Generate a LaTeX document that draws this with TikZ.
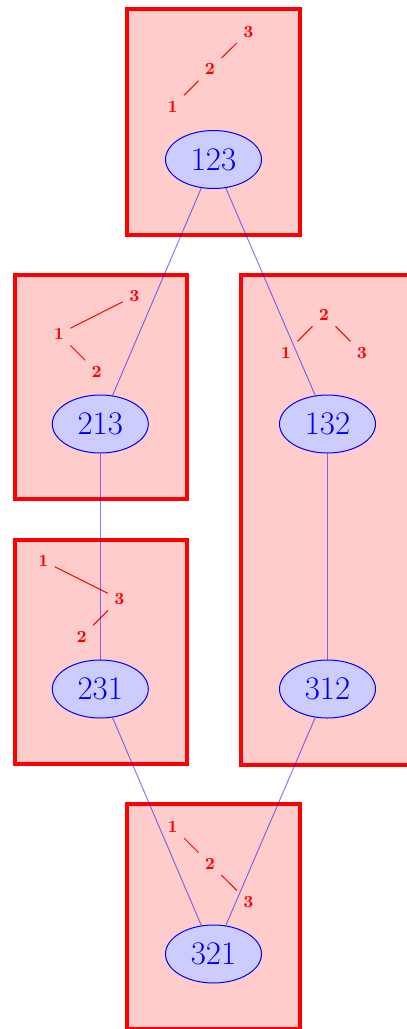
\documentclass[tikz,border=0pt]{standalone}
\usetikzlibrary{shapes.geometric}
\begin{document}
\begin{tikzpicture}[x=0.5pt,y=-0.5pt,
  redbox/.style={draw=red,fill=red!20,line width=2pt},
  perm/.style={ellipse,draw=blue,fill=blue!20,text=blue,line width=0.5pt,
    minimum width=48pt,minimum height=29pt,inner sep=0pt,
    font=\fontsize{16.5}{19}\selectfont},
  lab/.style={text=red,inner sep=3pt,font=\fontsize{8.5}{10}\selectfont\bfseries},
  treeline/.style={draw=red,line width=0.5pt},
  link/.style={draw=blue,draw opacity=0.5,line width=0.5pt}]
\useasboundingbox (0,0) rectangle (407,1029);
\clip (0,0) rectangle (407,1029);
% boxes
\path[redbox] (127,9) rectangle (300,235);
\path[redbox] (14.5,274.5) rectangle (186.5,499);
\path[redbox] (240.5,274.5) rectangle (413.5,764.5);
\path[redbox] (14.5,539.5) rectangle (186.5,764);
\path[redbox] (127,804) rectangle (300,1029);
% trees
\node[lab] (a1) at (172.7,106.7) {1};
\node[lab] (a2) at (210,69.3) {2};
\node[lab] (a3) at (248.3,31.7) {3};
\draw[treeline] (a1) -- (a2);
\draw[treeline] (a2) -- (a3);
\node[lab] (b1) at (59,334) {1};
\node[lab] (b2) at (96.7,371.7) {2};
\node[lab] (b3) at (134.3,296) {3};
\draw[treeline] (b1) -- (b3);
\draw[treeline] (b1) -- (b2);
\node[lab] (c2) at (324,315) {2};
\node[lab] (c1) at (286,352.7) {1};
\node[lab] (c3) at (362,352.7) {3};
\draw[treeline] (c2) -- (c1);
\draw[treeline] (c2) -- (c3);
\node[lab] (d1) at (43.3,561) {1};
\node[lab] (d3) at (119.3,599) {3};
\node[lab] (d2) at (81.7,636.7) {2};
\draw[treeline] (d1) -- (d3);
\draw[treeline] (d3) -- (d2);
\node[lab] (e1) at (172.7,826.7) {1};
\node[lab] (e2) at (210,864) {2};
\node[lab] (e3) at (248.3,901.7) {3};
\draw[treeline] (e1) -- (e2);
\draw[treeline] (e2) -- (e3);
% permutations
\node[perm] (p123) at (213.5,159.5) {123};
\node[perm] (p213) at (100.3,424) {213};
\node[perm] (p132) at (327.5,424) {132};
\node[perm] (p231) at (100.3,689) {231};
\node[perm] (p312) at (327.5,689) {312};
\node[perm] (p321) at (213.5,954) {321};
% links
\draw[link] (p123) -- (p213);
\draw[link] (p123) -- (p132);
\draw[link] (p213) -- (p231);
\draw[link] (p132) -- (p312);
\draw[link] (p231) -- (p321);
\draw[link] (p312) -- (p321);
\end{tikzpicture}
\end{document}
